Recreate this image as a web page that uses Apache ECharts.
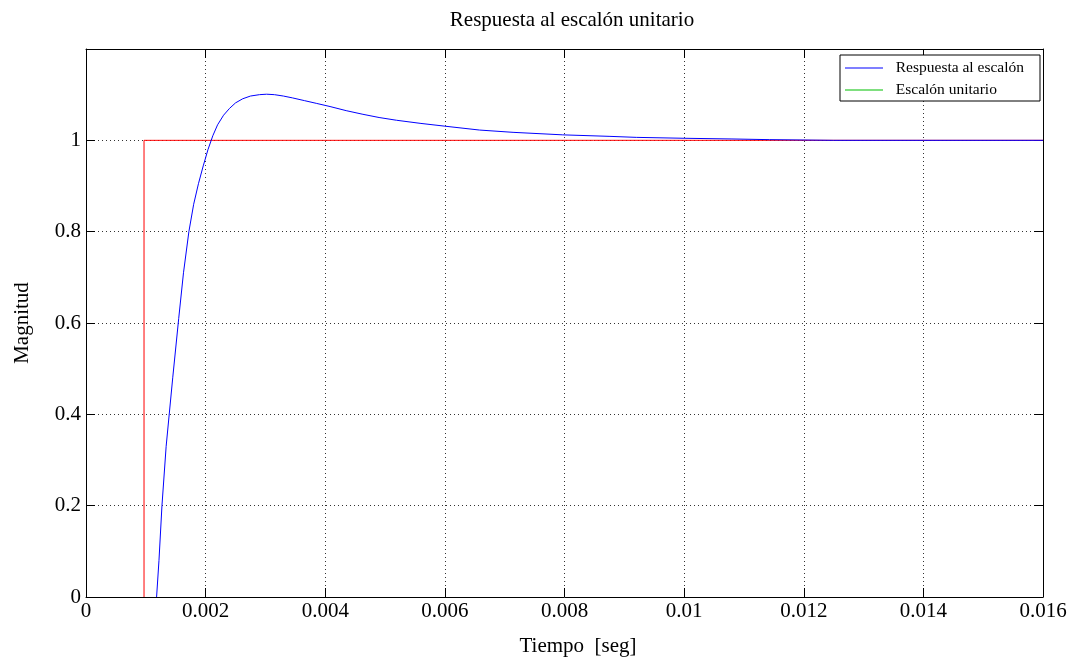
<!DOCTYPE html>
<html>
<head>
<meta charset="utf-8">
<title>Respuesta al escalón unitario</title>
<script src="https://cdn.jsdelivr.net/npm/echarts@6/dist/echarts.min.js"></script>
<style>
    html, body { margin: 0; padding: 0; background: #fff; }
    #char1 { width: 1076px; height: 662px; }
</style>
</head>
<body>
<div id="char1"></div>
<script>
// tiempo [seg] y magnitud de la respuesta
var respTime = [0.00118, 0.00122, 0.00127, 0.00134, 0.00145, 0.00155, 0.00163, 0.00172, 0.00180, 0.00188,
    0.00196, 0.00204, 0.00212, 0.00220, 0.00230, 0.00240, 0.00250, 0.00262, 0.00275, 0.00290,
    0.00302, 0.00315, 0.00330, 0.00345, 0.00365, 0.00385, 0.00408, 0.00435, 0.00463, 0.00490,
    0.00519, 0.00560, 0.00600, 0.00658, 0.00714, 0.00797, 0.00876, 0.00920, 0.01000, 0.01080,
    0.01143, 0.01250, 0.01400, 0.01600];
var respValue = [0, 0.08, 0.2, 0.33, 0.48, 0.61, 0.71, 0.80, 0.86, 0.905,
    0.944, 0.98, 1.01, 1.034, 1.055, 1.07, 1.082, 1.091, 1.097, 1.100,
    1.101, 1.100, 1.097, 1.093, 1.087, 1.081, 1.074, 1.065, 1.057, 1.050,
    1.044, 1.037, 1.031, 1.0225, 1.0175, 1.012, 1.0087, 1.0065, 1.0045, 1.003,
    1.0015, 1.0, 1.0, 1.0];

// escalón unitario
var stepTime = [0.00097, 0.00097, 0.016];
var stepValue = [0, 1, 1];

var seriesNames = ['Respuesta al escalón', 'Escalón unitario'];

function pairs(xs, ys) {
    var out = [];
    for (var i = 0; i < xs.length; i++) {
        out.push([xs[i], ys[i]]);
    }
    return out;
}

var serif = '"Liberation Serif", "DejaVu Serif", serif';
var char1 = echarts.init(document.getElementById('char1'));

// ejes de marco (arriba / derecha), solo línea y marcas hacia dentro
function frameAxis(extra) {
    return echarts.util.extend({
        axisLine: {show: true, onZero: false, lineStyle: {color: '#000', width: 1}},
        axisTick: {show: true, inside: true, length: 9, lineStyle: {color: '#000'}},
        axisLabel: {show: false},
        splitLine: {show: false}
    }, extra);
}

var option = {
    animation: false,
    backgroundColor: '#fff',
    title: {
        text: 'Respuesta al escalón unitario',
        left: 567,
        top: 5,
        textAlign: 'center',
        textStyle: {fontFamily: serif, fontSize: 21, fontWeight: 'normal', color: '#000'}
    },
    legend: {
        orient: 'vertical',
        left: 840,
        top: 55,
        width: 202,
        icon: 'rect',
        itemWidth: 38,
        itemHeight: 1,
        itemGap: 4,
        padding: [4, 16, 2, 5],
        borderColor: '#000',
        borderWidth: 1,
        borderRadius: 0,
        backgroundColor: '#fff',
        formatter: function (name) {
            return '  ' + name;
        },
        textStyle: {fontFamily: serif, fontSize: 15.5, color: '#000', lineHeight: 18},
        data: [
            {name: seriesNames[0], itemStyle: {color: '#0000ff'}},
            {name: seriesNames[1], itemStyle: {color: '#00c000'}}
        ]
    },
    grid: {left: 86, right: 33, top: 49, bottom: 63},
    xAxis: [{
        type: 'value',
        min: 0,
        max: 0.016,
        interval: 0.002,
        name: 'Tiempo  [seg]',
        nameLocation: 'middle',
        nameGap: 39,
        nameTextStyle: {fontFamily: serif, fontSize: 21, color: '#000', padding: [0, 0, 0, 27]},
        axisLine: {show: true, onZero: false, lineStyle: {color: '#000', width: 1}},
        axisTick: {show: true, inside: true, length: 9, lineStyle: {color: '#000'}},
        axisLabel: {fontFamily: serif, fontSize: 21, color: '#000', margin: 4},
        splitLine: {show: true, lineStyle: {color: '#333', type: [1, 3], width: 1}}
    }, frameAxis({
        type: 'value', position: 'top', min: 0, max: 0.016, interval: 0.002
    })],
    yAxis: [{
        type: 'value',
        min: 0,
        max: 1.2,
        interval: 0.2,
        name: 'Magnitud',
        nameLocation: 'middle',
        nameGap: 53,
        nameTextStyle: {fontFamily: serif, fontSize: 21, color: '#000'},
        axisLine: {show: true, onZero: false, lineStyle: {color: '#000', width: 1}},
        axisTick: {show: true, inside: true, length: 9, lineStyle: {color: '#000'}},
        axisLabel: {
            fontFamily: serif, fontSize: 21, color: '#000', margin: 5,
            formatter: function (v) {
                return v > 1.1 ? '' : String(Math.round(v * 10) / 10);
            }
        },
        splitLine: {show: true, lineStyle: {color: '#333', type: [1, 3], width: 1}}
    }, frameAxis({
        type: 'value', position: 'right', min: 0, max: 1.2, interval: 0.2
    })],
    series: [
        {
            name: seriesNames[0],
            type: 'line',
            symbol: 'none',
            data: pairs(respTime, respValue),
            lineStyle: {color: '#0000ff', width: 1},
            itemStyle: {color: '#0000ff'},
            z: 3
        },
        {
            name: seriesNames[1],
            type: 'line',
            symbol: 'none',
            data: pairs(stepTime, stepValue),
            lineStyle: {color: '#ff0000', width: 1},
            itemStyle: {color: '#00c000'},
            z: 2
        }
    ]
};

char1.setOption(option);
</script>
</body>
</html>
